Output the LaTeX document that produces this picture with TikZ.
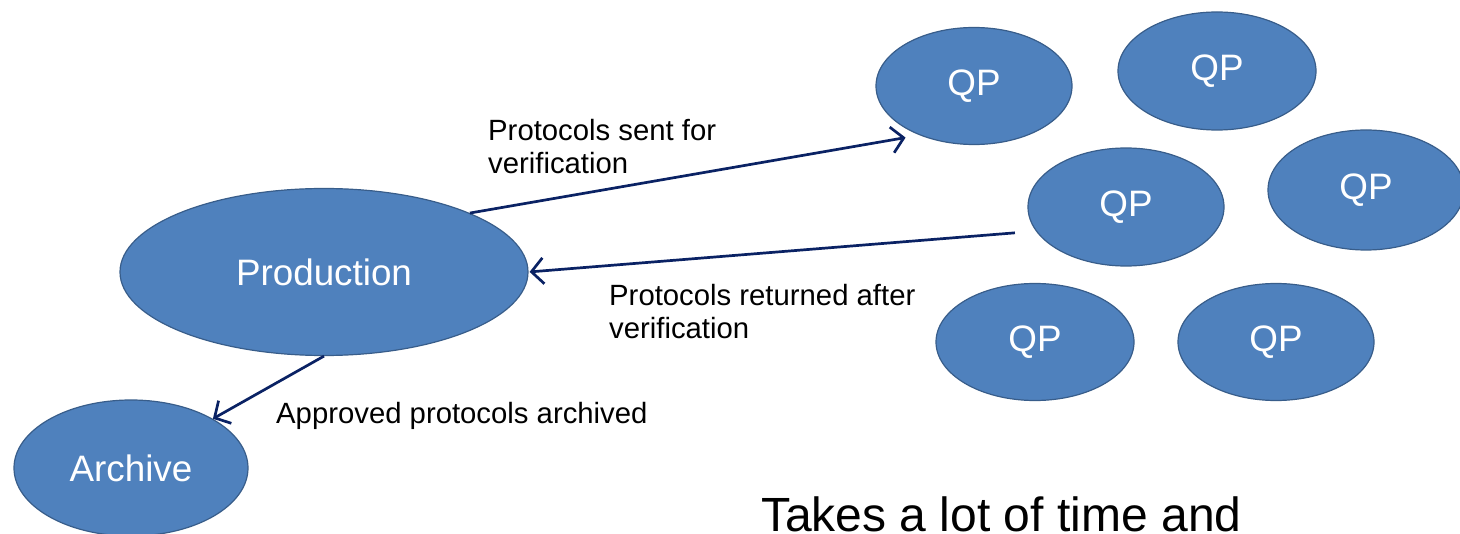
\documentclass[tikz,border=0pt]{standalone}
\usepackage{fontspec}
\setmainfont{Liberation Sans}
\usetikzlibrary{shapes.geometric,arrows.meta}
\definecolor{qpfill}{HTML}{4F81BD}
\definecolor{qpline}{HTML}{385D8A}
\definecolor{arrowcol}{HTML}{0A2264}
\tikzset{
  blob/.style={ellipse, fill=qpfill, draw=qpline, line width=1.2pt, inner sep=0pt,
    text=white, font=\fontsize{36.8}{40}\selectfont},
  flow/.style={draw=arrowcol, line width=2.7pt, -{Straight Barb[length=12pt,width=26pt,line width=2.7pt]}},
  lbl/.style={inner sep=0pt, align=left, font=\fontsize{29.3}{33}\selectfont, text=black}
}
\begin{document}
\begin{tikzpicture}[x=1pt,y=-1pt]
\useasboundingbox (0,0) rectangle (1460,534);
\clip (0,0) rectangle (1460,534);
\node[blob, minimum width=408pt, minimum height=167pt] (prod) at (324,272) {Production};
\node[blob, minimum width=234pt, minimum height=136pt] (arch) at (131,468) {Archive};
\node[blob, minimum width=196pt, minimum height=117pt] (qp1) at (974,86) {QP};
\node[blob, minimum width=198pt, minimum height=118pt] (qp2) at (1217,71) {QP};
\node[blob, minimum width=196pt, minimum height=118pt] (qp3) at (1126,207) {QP};
\node[blob, minimum width=196pt, minimum height=120pt] (qp4) at (1366,190) {QP};
\node[blob, minimum width=198pt, minimum height=117pt] (qp5) at (1035,342) {QP};
\node[blob, minimum width=196pt, minimum height=117pt] (qp6) at (1276,342) {QP};
\draw[flow, shorten >=14pt] (prod.22) -- (qp1.222);
\draw[flow, shorten <=21pt, shorten >=1pt] (qp3.195) -- (prod.east);
\draw[flow] (prod.south) -- (arch.31);
\node[lbl, anchor=base west] (l1a) at (488,140.5) {Protocols sent for};
\node[lbl, anchor=base west] (l1b) at (488,173.5) {verification};
\node[lbl, anchor=base west] (l2a) at (609,306) {Protocols returned after};
\node[lbl, anchor=base west] (l2b) at (609,339) {verification};
\node[lbl, anchor=base west] (l3) at (276,424) {Approved protocols archived};
\node[inner sep=0pt, anchor=base west, font=\fontsize{48}{54}\selectfont] (take) at (761,531) {Takes a lot of time and};
\end{tikzpicture}
\end{document}
